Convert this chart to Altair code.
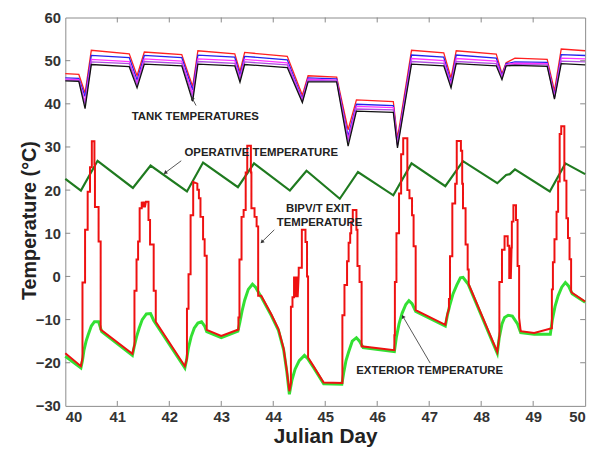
import math
import altair as alt
import pandas as pd

# ---------------- data ----------------
x_ticks = [40, 41, 42, 43, 44, 45, 46, 47, 48, 49, 50]
y_ticks = [-30, -20, -10, 0, 10, 20, 30, 40, 50, 60]

# Tank temperatures (five stratified nodes), shared time breakpoints
tank_day = [40.0, 40.26, 40.38, 40.5, 41.23, 41.38, 41.52, 42.24, 42.45, 42.55,
            43.26, 43.36, 43.45, 44.27, 44.56, 44.67, 45.22, 45.44, 45.6, 46.31,
            46.39, 46.66, 47.28, 47.42, 47.52, 48.29, 48.4, 48.48, 48.65, 49.27,
            49.41, 49.54, 50.0]
tank_red = [47.0, 46.8, 42.5, 52.4, 51.6, 46.5, 52.0, 51.4, 44.0, 52.3,
            51.6, 47.5, 51.9, 51.0, 42.0, 46.5, 46.2, 34.0, 40.9, 40.5,
            32.0, 52.4, 51.8, 46.0, 52.3, 51.5, 47.0, 49.5, 50.6, 50.3,
            43.0, 52.7, 52.3]
tank_blue = [46.0, 45.9, 41.7, 51.2, 50.7, 45.5, 51.2, 50.7, 43.2, 51.3,
             50.8, 46.6, 51.0, 50.2, 41.2, 46.0, 45.8, 32.5, 39.9, 39.6,
             31.0, 51.3, 50.8, 45.0, 51.3, 50.6, 46.5, 49.3, 49.7, 49.6,
             42.0, 51.4, 51.2]
tank_magenta = [45.7, 45.6, 40.5, 50.3, 49.8, 44.8, 50.4, 49.9, 42.3, 50.4,
                50.0, 46.0, 50.3, 49.5, 40.9, 45.7, 45.5, 31.8, 39.4, 39.1,
                30.6, 50.5, 50.0, 44.5, 50.5, 49.9, 46.2, 49.1, 49.4, 49.3,
                41.7, 50.6, 50.4]
tank_violet = [45.5, 45.4, 39.8, 49.7, 49.3, 44.3, 49.8, 49.4, 41.5, 49.8,
               49.4, 45.6, 49.7, 49.0, 40.6, 45.4, 45.3, 31.2, 38.8, 38.6,
               30.3, 49.8, 49.4, 44.1, 49.8, 49.3, 45.9, 48.9, 49.1, 49.0,
               41.4, 49.9, 49.7]
tank_black = [45.3, 45.2, 38.9, 49.1, 48.6, 43.7, 49.2, 48.8, 40.6, 49.2,
              48.8, 45.0, 49.1, 48.4, 40.3, 45.1, 45.1, 30.2, 38.3, 38.0,
              29.8, 49.2, 48.8, 43.7, 49.3, 48.8, 45.6, 48.8, 48.9, 48.7,
              41.1, 49.3, 49.0]

# Operative temperature
op_day = [40.0, 40.3, 40.62, 41.3, 41.64, 42.34, 42.65, 43.32, 43.63, 44.32,
          44.64, 45.28, 45.63, 46.31, 46.66, 47.31, 47.65, 48.31, 48.48, 48.55,
          48.65, 49.32, 49.62, 50.0]
op_temp = [22.6, 19.9, 26.8, 20.5, 25.7, 19.7, 26.4, 20.7, 26.2, 19.9,
           24.5, 18.0, 24.2, 18.8, 26.2, 20.9, 26.7, 21.6, 23.5, 23.7,
           24.8, 19.7, 26.2, 23.7]

# Exterior temperature
ext_points = [
    (40.00, -18.5), (40.30, -21.2), (40.33, -19.5), (40.36, -17.0), (40.40, -15.0),
    (40.44, -13.5), (40.50, -11.5), (40.56, -10.5), (40.64, -10.5), (40.70, -12.8),
    (41.29, -18.3), (41.33, -16.0), (41.37, -14.0), (41.42, -12.0), (41.48, -10.0),
    (41.56, -8.7), (41.64, -8.6), (41.70, -10.2), (42.30, -21.2), (42.33, -19.5),
    (42.37, -16.5), (42.42, -14.0), (42.48, -12.0), (42.55, -10.8), (42.62, -10.5),
    (42.68, -11.5), (42.72, -12.8), (43.00, -14.2), (43.32, -12.7), (43.36, -10.5),
    (43.40, -8.0), (43.45, -5.5), (43.52, -3.0), (43.60, -1.8), (43.66, -2.5),
    (43.77, -4.8), (43.96, -9.0), (44.10, -12.5), (44.20, -17.0), (44.26, -22.0),
    (44.31, -27.3), (44.36, -24.0), (44.42, -21.5), (44.50, -19.5), (44.60, -18.3),
    (44.66, -19.0), (44.78, -21.2), (44.97, -24.9), (45.32, -25.0), (45.36, -22.0),
    (45.40, -19.5), (45.45, -17.5), (45.52, -15.0), (45.60, -14.2), (45.66, -15.0),
    (45.73, -16.5), (46.33, -17.4), (46.37, -14.0), (46.42, -11.0), (46.48, -8.5),
    (46.55, -6.5), (46.61, -5.6), (46.67, -6.3), (46.74, -8.1), (47.31, -11.5),
    (47.35, -9.0), (47.40, -6.5), (47.46, -4.0), (47.53, -2.0), (47.60, -0.3),
    (47.65, -0.2), (47.70, -1.0), (47.75, -1.8), (48.31, -17.8), (48.35, -14.0),
    (48.40, -11.0), (48.45, -9.5), (48.52, -9.0), (48.60, -9.2), (48.70, -11.0),
    (48.76, -13.0), (49.02, -13.4), (49.33, -13.4), (49.37, -10.0), (49.42, -7.0),
    (49.48, -4.5), (49.55, -2.5), (49.62, -1.4), (49.68, -2.2), (49.75, -4.0),
    (50.00, -6.0),
]

# BIPV/T exit temperature (stepped daytime peaks)
exit_points = [
    (40.00, -17.8), (40.30, -20.8), (40.33, -18.8),
    (40.33, -1.4), (40.38, -1.4), (40.38, 10.8), (40.43, 10.8), (40.43, 19.6),
    (40.475, 19.6), (40.475, 25.3), (40.51, 25.3), (40.51, 31.3), (40.56, 31.3),
    (40.56, 26.0), (40.57, 26.0), (40.57, 16.1), (40.64, 16.1), (40.64, 8.1),
    (40.68, 8.1), (40.68, -12.3),
    (41.29, -17.9), (41.33, -15.8),
    (41.33, -3.3), (41.37, -3.3), (41.37, 3.9), (41.40, 3.9), (41.40, 8.1),
    (41.43, 8.1), (41.43, 15.8), (41.47, 15.8), (41.47, 17.3), (41.49, 16.0),
    (41.51, 17.3), (41.53, 16.0), (41.55, 17.3), (41.60, 17.3), (41.60, 13.1),
    (41.63, 13.1), (41.63, 7.4), (41.70, 7.4), (41.70, -3.3), (41.74, -3.3),
    (41.74, -10.5),
    (42.30, -20.8), (42.34, -19.0),
    (42.34, -7.5), (42.37, -7.5), (42.37, 0.5), (42.41, 0.5), (42.41, 14.2),
    (42.46, 14.2), (42.46, 21.9), (42.54, 21.5), (42.54, 20.1), (42.57, 20.1),
    (42.57, 18.1), (42.60, 18.1), (42.60, 13.8), (42.65, 13.8), (42.65, 8.6),
    (42.68, 8.6), (42.68, 4.8), (42.72, 4.8), (42.72, -12.4),
    (43.00, -13.8), (43.33, -12.3),
    (43.33, -9.5), (43.35, -9.5), (43.35, 3.9), (43.39, 3.9), (43.39, 13.8),
    (43.43, 13.8), (43.43, 15.4), (43.47, 15.4), (43.47, 24.1), (43.50, 24.1),
    (43.50, 30.3), (43.57, 30.3), (43.57, 24.1), (43.58, 24.1), (43.58, 15.8),
    (43.64, 15.8), (43.64, 13.8), (43.68, 13.8), (43.68, 11.6), (43.71, 11.6),
    (43.71, -4.5),
    (43.77, -4.5), (43.96, -8.7), (44.10, -12.2), (44.20, -16.7), (44.26, -21.7),
    (44.31, -26.6), (44.34, -24.8),
    (44.34, -7.0), (44.37, -7.0), (44.37, -4.8), (44.40, -4.8), (44.40, 0.0),
    (44.41, -4.8), (44.43, 0.0), (44.44, -4.8), (44.46, 0.0), (44.47, -4.8),
    (44.49, 0.5), (44.49, 2.0), (44.55, 2.0), (44.55, 10.8), (44.62, 10.8),
    (44.62, 8.0), (44.65, 8.0), (44.65, 0.0), (44.67, 0.0), (44.67, -18.8),
    (44.78, -20.9), (44.97, -24.6), (45.33, -24.7),
    (45.33, -9.0), (45.37, -9.0), (45.37, -2.0), (45.42, -2.0), (45.42, 3.5),
    (45.45, 3.5), (45.45, 7.8), (45.48, 7.8), (45.48, 10.0), (45.50, 10.0),
    (45.50, 12.7), (45.53, 12.7), (45.53, 15.4), (45.60, 15.4), (45.60, 10.8),
    (45.62, 10.8), (45.62, 2.4), (45.66, 2.4), (45.66, -1.3), (45.70, -1.3),
    (45.70, -16.2),
    (46.33, -17.1),
    (46.33, -13.6), (46.34, -13.6), (46.34, -1.3), (46.37, -1.3), (46.37, 10.0),
    (46.42, 10.0), (46.42, 19.2), (46.46, 19.2), (46.46, 28.3), (46.50, 28.3),
    (46.50, 32.0), (46.58, 32.0), (46.58, 20.0), (46.62, 20.0), (46.62, 18.1),
    (46.67, 18.1), (46.67, 14.2), (46.70, 14.2), (46.70, 7.0), (46.74, 7.0),
    (46.74, -7.8),
    (47.31, -11.2), (47.35, -8.7), (47.38, -7.5),
    (47.38, -5.2), (47.40, -5.2), (47.40, 4.7), (47.445, 4.7), (47.445, 16.9),
    (47.50, 16.9), (47.50, 21.5), (47.53, 21.5), (47.53, 31.4), (47.61, 31.4),
    (47.61, 29.1), (47.635, 29.1), (47.635, 21.5), (47.65, 21.5), (47.65, 15.8),
    (47.70, 15.8), (47.70, 7.4), (47.74, 7.4), (47.74, 1.6), (47.76, 1.6),
    (47.76, -1.8),
    (48.31, -17.5), (48.35, -13.7),
    (48.35, -1.3), (48.40, -1.3), (48.40, 6.2), (48.45, 6.2), (48.45, 9.3),
    (48.51, 9.3), (48.51, 7.1), (48.54, 7.1), (48.54, -0.6), (48.555, 6.7),
    (48.57, -0.6), (48.585, 6.7), (48.59, 6.7), (48.59, 12.7), (48.62, 12.7),
    (48.62, 16.5), (48.67, 16.5), (48.67, 13.1), (48.70, 13.1), (48.70, 2.4),
    (48.73, 2.4), (48.73, -9.6),
    (48.76, -12.7), (49.02, -13.1), (49.36, -12.0),
    (49.36, -3.0), (49.38, -3.0), (49.38, 3.3), (49.41, 3.3), (49.41, 8.6),
    (49.45, 8.6), (49.45, 15.0), (49.48, 15.0), (49.48, 22.0), (49.51, 22.0),
    (49.51, 33.0), (49.54, 33.0), (49.54, 34.8), (49.60, 34.8), (49.60, 22.2),
    (49.64, 22.2), (49.64, 13.5), (49.67, 13.5), (49.67, 8.9), (49.70, 8.9),
    (49.70, 4.0), (49.73, 4.0), (49.73, -3.5),
    (49.75, -3.8), (50.00, -5.8),
]

# Annotations
label_text = ["TANK TEMPERATURES", "OPERATIVE TEMPERATURE", "BIPV/T EXIT",
              "TEMPERATURE", "EXTERIOR TEMPERATURE"]
label_day = [42.50, 43.77, 44.87, 44.89, 47.01]
label_temp = [36.9, 28.7, 15.6, 12.3, -22.0]

arrow_tail_day = [42.515, 42.23, 44.02, 47.02]
arrow_tail_temp = [39.6, 26.8, 10.8, -20.1]
arrow_head_day = [42.445, 41.93, 43.79, 46.50]
arrow_head_temp = [41.2, 24.1, 8.1, -9.4]

# ---------------- build tables ----------------
W, H = 526, 393
PX_PER_DAY = W / 10.0
PX_PER_DEG = H / 90.0

tank_series = [("T1", tank_red), ("T2", tank_blue), ("T3", tank_magenta),
               ("T4", tank_violet), ("T5", tank_black)]
tank_rows = []
for name, vals in tank_series:
    for i, (d, v) in enumerate(zip(tank_day, vals)):
        tank_rows.append({"s": name, "i": i, "day": d, "temp": v})
tank_df = pd.DataFrame(tank_rows)

op_df = pd.DataFrame({"day": op_day, "temp": op_temp, "i": range(len(op_day))})
ext_df = pd.DataFrame({"day": [p[0] for p in ext_points],
                       "temp": [p[1] for p in ext_points],
                       "i": range(len(ext_points))})
exit_df = pd.DataFrame({"day": [p[0] for p in exit_points],
                        "temp": [p[1] for p in exit_points],
                        "i": range(len(exit_points))})
lab_df = pd.DataFrame({"t": label_text, "day": label_day, "temp": label_temp})

angles = []
for td, tt, hd, ht in zip(arrow_tail_day, arrow_tail_temp, arrow_head_day, arrow_head_temp):
    dx = (hd - td) * PX_PER_DAY
    dy = -(ht - tt) * PX_PER_DEG
    angles.append(math.degrees(math.atan2(dx, -dy)) % 360)
arr_df = pd.DataFrame({"d1": arrow_tail_day, "t1": arrow_tail_temp,
                       "d2": arrow_head_day, "t2": arrow_head_temp, "ang": angles})

xt_df = pd.DataFrame({"v": x_ticks[1:-1]})
yt_df = pd.DataFrame({"v": y_ticks[1:-1]})

FONT = "Liberation Sans"
xscale = alt.Scale(domain=[40, 50], nice=False, zero=False)
yscale = alt.Scale(domain=[-30, 60], nice=False, zero=False)

X = alt.X("day:Q", scale=xscale,
          axis=alt.Axis(values=x_ticks, format="d", title="Julian Day",
                        domain=False, ticks=False, labelPadding=4,
                        labelFont=FONT, labelFontSize=15, labelFontWeight="bold",
                        labelColor="#333333", titleFont=FONT, titleFontSize=21,
                        titleFontWeight="bold", titleColor="#222222",
                        titleY=37, titleBaseline="alphabetic", grid=False))
Y = alt.Y("temp:Q", scale=yscale,
          axis=alt.Axis(values=y_ticks, format="d", title="Temperature (°C)",
                        domain=False, ticks=False, labelPadding=5,
                        labelFont=FONT, labelFontSize=15, labelFontWeight="bold",
                        labelColor="#333333", titleFont=FONT, titleFontSize=20,
                        titleFontWeight="bold", titleColor="#222222",
                        titleX=-26, titleY=205, grid=False))

tank = alt.Chart(tank_df).mark_line(strokeWidth=1.3).encode(
    x=X, y=Y,
    color=alt.Color("s:N", legend=None,
                    scale=alt.Scale(domain=["T1", "T2", "T3", "T4", "T5"],
                                    range=["#ff2020", "#2222ee", "#ff33ff", "#b04ee0", "#111111"])),
    order="i:Q",
)
oper = alt.Chart(op_df).mark_line(strokeWidth=2.2, color="#1f7a1f").encode(
    x=alt.X("day:Q", scale=xscale), y=alt.Y("temp:Q", scale=yscale), order="i:Q")
ext = alt.Chart(ext_df).mark_line(strokeWidth=3, color="#33e033").encode(
    x=alt.X("day:Q", scale=xscale), y=alt.Y("temp:Q", scale=yscale), order="i:Q")
ext_line = alt.Chart(exit_df).mark_line(strokeWidth=2, color="#ee1111").encode(
    x=alt.X("day:Q", scale=xscale), y=alt.Y("temp:Q", scale=yscale), order="i:Q")

labels = alt.Chart(lab_df).mark_text(font=FONT, fontSize=11.5, fontWeight="bold",
                                     color="#222222", baseline="middle", align="center").encode(
    x=alt.X("day:Q", scale=xscale), y=alt.Y("temp:Q", scale=yscale), text="t:N")
arrows = alt.Chart(arr_df).mark_rule(color="#555555", strokeWidth=1).encode(
    x=alt.X("d1:Q", scale=xscale), y=alt.Y("t1:Q", scale=yscale),
    x2="d2:Q", y2="t2:Q")
heads = alt.Chart(arr_df).mark_point(shape="triangle", filled=True, size=18,
                                     color="#333333", opacity=1).encode(
    x=alt.X("d2:Q", scale=xscale), y=alt.Y("t2:Q", scale=yscale),
    angle=alt.Angle("ang:Q", scale=None))

tick_col = "#888888"
xt_bot = alt.Chart(xt_df).mark_rule(color=tick_col).encode(
    x=alt.X("v:Q", scale=xscale), y=alt.value(H), y2=alt.value(H - 5))
xt_top = alt.Chart(xt_df).mark_rule(color=tick_col).encode(
    x=alt.X("v:Q", scale=xscale), y=alt.value(0), y2=alt.value(5))
yt_left = alt.Chart(yt_df).mark_rule(color=tick_col).encode(
    y=alt.Y("v:Q", scale=yscale), x=alt.value(0), x2=alt.value(5))
yt_right = alt.Chart(yt_df).mark_rule(color=tick_col).encode(
    y=alt.Y("v:Q", scale=yscale), x=alt.value(W), x2=alt.value(W - 5))

chart = alt.layer(
    tank, oper, ext, ext_line, labels, arrows, heads,
    xt_bot, xt_top, yt_left, yt_right,
).properties(
    width=W, height=H,
    autosize=alt.AutoSizeParams(type="none"),
    padding={"left": 58, "top": 7, "right": 12, "bottom": 41},
    background="white",
).configure_view(stroke="#8a8a8a", strokeWidth=1)

chart.save("out.html", embed_options={"renderer": "svg", "actions": False})
